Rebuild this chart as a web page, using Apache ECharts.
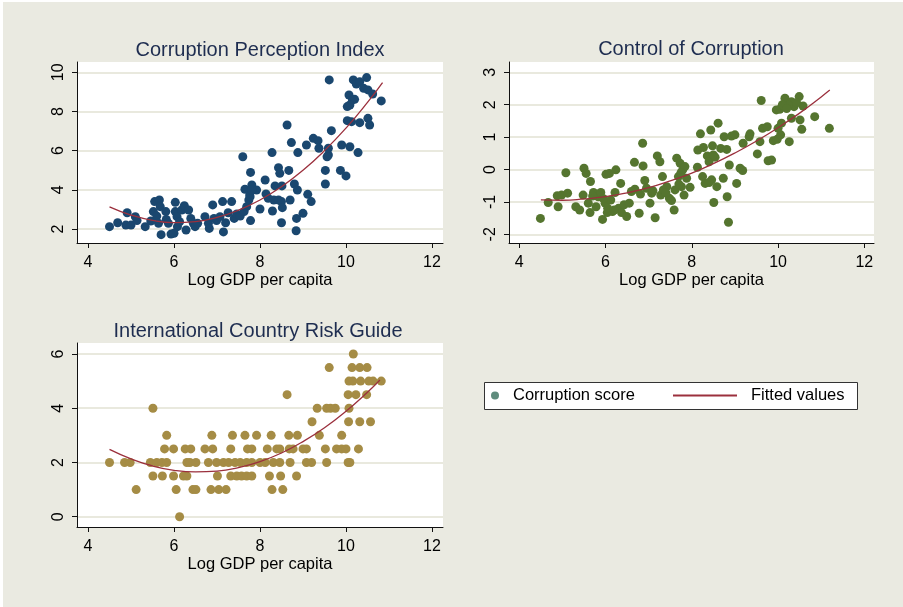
<!DOCTYPE html>
<html>
<head>
<meta charset="utf-8">
<script src="https://cdn.jsdelivr.net/npm/echarts@6/dist/echarts.min.js"></script>
<style>
  html, body { margin: 0; padding: 0; background: #fff; }
  #main { width: 903px; height: 607px; }
</style>
</head>
<body>
<div id="main"></div>
<script>
// tick labels
const gdpTicks = [4, 6, 8, 10, 12];
const cpiTicks = [2, 4, 6, 8, 10];
const cocTicks = [-2, -1, 0, 1, 2, 3];
const icrgTicks = [0, 2, 4, 6];

// [log GDP per capita, score]
const cpiPoints = [
  [9.61,9.61],[10.17,9.61],[10.24,9.4],[10.48,9.73],[10.32,9.52],[10.41,9.18],[10.51,9.1],[10.62,8.89],[10.82,8.54],
  [10.07,8.84],[10.15,8.59],[10.2,8.62],[10.03,8.25],[10.09,8.33],[10.03,7.53],[10.13,7.48],[10.32,7.43],[10.51,7.65],[10.55,7.31],
  [9.66,7.02],[9.9,6.29],[10.09,6.2],[10.28,5.9],[9.59,5.78],[9.56,5.69],[9.52,4.99],[9.52,4.3],[9.87,4.99],[10.0,4.71],
  [9.24,6.63],[9.35,6.51],[9.08,6.29],[9.59,6.12],[9.37,6.12],[8.63,7.31],[8.73,6.41],[8.88,5.9],[8.28,5.9],
  [7.6,5.69],[7.78,4.89],[8.43,5.13],[8.46,4.84],[8.67,4.99],[8.12,4.5],[8.35,4.2],[8.51,4.2],[8.8,4.3],[8.87,3.99],
  [7.65,4.03],[7.81,4.25],[7.92,3.99],[7.76,3.74],[8.14,3.79],[8.19,3.57],[8.32,3.48],[8.43,3.48],[8.5,3.4],[8.7,3.48],
  [9.11,3.77],[9.19,3.4],[8.29,2.92],[8.52,3.09],[8.0,3.02],[9.0,2.8],[8.85,2.54],[8.5,2.32],[8.84,1.91],[7.78,2.43],
  [4.5,2.12],[4.69,2.32],[4.88,2.2],[4.91,2.83],[5.0,2.2],[5.1,2.63],[5.14,2.43],[5.33,2.12],[5.46,2.41],[5.52,2.89],
  [5.55,3.4],[5.66,3.48],[5.68,3.14],[5.6,2.66],[5.64,2.29],[5.7,1.71],[5.81,2.89],[5.82,2.49],[5.87,2.29],[5.93,1.74],
  [6.03,3.36],[6.03,2.89],[6.07,2.63],[6.08,2.12],[6.0,1.78],[6.13,2.37],[6.18,2.97],[6.24,3.19],[6.28,1.95],[6.34,2.97],
  [6.39,2.54],[6.45,2.29],[6.49,2.12],[6.55,2.29],[6.72,2.63],[6.8,2.29],[6.82,2.03],[6.9,3.23],[6.93,2.54],[6.99,2.43],
  [7.07,2.63],[7.13,3.4],[7.15,1.85],[7.2,2.32],[7.26,2.83],[7.34,3.4],[7.4,2.54],[7.46,2.77],[7.54,2.66],[7.63,2.89],
  [7.69,3.14],[7.74,3.48],[7.77,3.65],[7.81,3.99]
];
const cocPoints = [
  [4.49,-1.51],[4.67,-1.02],[4.88,-0.81],[4.9,-1.15],[4.98,-0.79],[5.12,-0.73],[5.08,-0.1],[5.31,-1.15],[5.4,-1.25],[5.48,-0.79],
  [5.5,0.04],[5.55,-0.12],[5.6,-1.04],[5.65,-0.37],[5.64,-1.33],[5.72,-0.71],[5.78,-1.15],[5.83,-0.84],[5.89,-0.71],[5.93,-1.54],
  [5.99,-1.04],[6.01,-0.15],[6.04,-1.33],[6.09,-0.12],[6.12,-0.94],[6.16,-1.3],[6.22,-0.71],[6.24,-0.01],[6.3,-1.2],[6.35,-0.43],
  [6.37,-1.33],[6.43,-1.09],[6.49,-1.45],[6.55,-1.04],[6.67,0.22],[6.68,-0.61],[6.78,-1.35],[6.81,-0.76],[6.86,0.81],[6.87,0.11],
  [6.91,-0.34],[6.95,-0.58],[7.03,-1.04],[7.07,-0.73],[7.15,-1.49],[7.2,0.42],[7.26,0.24],[7.28,-0.79],[7.32,-0.22],[7.34,-0.63],
  [7.42,-0.53],[7.48,-0.89],[7.53,-0.96],[7.59,-1.25],[7.61,-0.63],[7.65,0.35],[7.69,-0.22],[7.73,0.19],[7.76,-0.53],[7.79,-0.01],
  [7.82,-0.79],[7.84,0.09],[7.88,-0.27],[7.96,-0.55],[8.13,0.07],[8.14,0.6],[8.2,1.1],[8.25,-0.22],[8.27,0.68],[8.31,-0.43],
  [8.36,0.42],[8.4,0.24],[8.44,1.22],[8.46,-0.32],[8.48,0.73],[8.51,-1.02],[8.54,0.38],[8.58,-0.53],[8.61,1.43],[8.67,0.65],
  [8.73,-0.27],[8.75,1.01],[8.81,0.62],[8.82,-0.84],[8.85,-1.63],[8.87,0.14],[8.92,1.03],[9.0,1.07],[9.04,-0.43],[9.12,0.04],
  [9.18,-0.03],[9.19,0.81],[9.33,1.01],[9.35,1.1],[9.52,0.48],[9.58,0.86],[9.61,2.13],[9.64,1.27],[9.75,1.32],[9.77,0.27],
  [9.85,0.29],[9.89,0.89],[9.98,0.93],[10.0,1.27],[10.06,1.07],[10.08,1.43],[10.04,1.86],[10.16,1.94],[10.16,2.2],[10.26,0.86],
  [10.31,2.09],[10.31,1.58],[10.37,1.94],[10.49,2.25],[10.51,1.53],[10.55,1.24],[10.58,1.96],[10.85,1.63],[11.19,1.27],[10.24,1.99],
  [10.43,2.06],[9.96,1.84],
  [5.7,-0.82],[5.95,-0.9],[6.05,-1.2],[6.2,-1.25],[6.6,-0.68],[7.1,-0.66],[7.4,-0.72],[7.7,-0.45],[7.75,-0.1],[8.4,-0.4],
  [8.5,0.45],[10.1,2.0],[10.2,1.88]
];
const icrgPoints = [
  [10.17,6],
  [9.61,5.5],[10.14,5.5],[10.32,5.5],[10.49,5.5],
  [10.07,5],[10.16,5],[10.34,5],[10.53,5],[10.63,5],[10.82,5],
  [8.63,4.5],[10.05,4.5],[10.23,4.5],[10.48,4.5],
  [5.51,4],[9.33,4],[9.55,4],[9.64,4],[9.75,4],[10.07,4],
  [9.21,3.5],[10.06,3.5],[10.32,3.5],[10.57,3.5],
  [5.83,3],[6.88,3],[7.36,3],[7.65,3],[7.92,3],[8.26,3],[8.67,3],[8.87,3],[9.38,3],[9.9,3],
  [5.78,2.5],[5.99,2.5],[6.26,2.5],[6.39,2.5],[6.72,2.5],[6.9,2.5],[7.32,2.5],[7.71,2.5],[7.81,2.5],[8.17,2.5],
  [8.39,2.5],[8.46,2.5],[8.68,2.5],[8.77,2.5],[9.0,2.5],[9.08,2.5],[9.52,2.5],[9.78,2.5],[9.9,2.5],[10.0,2.5],[10.29,2.5],
  [4.5,2],[4.85,2],[4.98,2],[5.45,2],[5.6,2],[5.72,2],[5.83,2],[6.3,2],[6.37,2],[6.51,2],[6.8,2],
  [6.99,2],[7.15,2],[7.27,2],[7.42,2],[7.54,2],[7.69,2],[7.81,2],[8.0,2],[8.12,2],[8.31,2],[8.46,2],[8.7,2],
  [9.08,2],[9.2,2],[9.55,2],[10.05,2],[10.09,2],
  [5.51,1.5],[5.73,1.5],[5.99,1.5],[6.22,1.5],[6.3,1.5],[7.01,1.5],[7.32,1.5],[7.46,1.5],[7.57,1.5],[7.69,1.5],
  [7.81,1.5],[8.22,1.5],[8.48,1.5],[8.85,1.5],
  [5.12,1],[6.05,1],[6.44,1],[6.51,1],[6.86,1],[7.04,1],[7.21,1],[8.28,1],[8.53,1],
  [6.13,0]
];

// fitted values
const cpiFit = [[4.5,3.13],[5,2.71],[5.5,2.44],[6,2.33],[6.5,2.38],[7,2.59],[7.5,2.96],[8,3.48],[8.5,4.16],[9,5.0],[9.5,6.0],[10,7.15],[10.5,8.46],[10.85,9.47]];
const cocFit = [[4.5,-0.94],[5,-0.95],[5.5,-0.91],[6,-0.84],[6.5,-0.72],[7,-0.56],[7.5,-0.35],[8,-0.11],[8.5,0.18],[9,0.51],[9.5,0.88],[10,1.29],[10.5,1.74],[11,2.24],[11.2,2.45]];
const icrgFit = [[4.5,2.48],[5,2.13],[5.5,1.87],[6,1.71],[6.5,1.65],[7,1.68],[7.5,1.81],[8,2.03],[8.5,2.35],[9,2.77],[9.5,3.28],[10,3.89],[10.5,4.59],[10.79,5.04]];

const FONT = '"Liberation Sans", Arial, sans-serif';
const FIT_COLOR = '#9b303d';

function xAxisFor(gridIndex, min, max) {
  return {
    type: 'value', gridIndex: gridIndex, min: min, max: max,
    name: 'Log GDP per capita', nameLocation: 'middle', nameGap: 29,
    nameTextStyle: { fontSize: 16.5, color: '#000', fontFamily: FONT },
    axisLine: { show: true, onZero: false, lineStyle: { color: '#111', width: 1 } },
    axisTick: { show: true, length: 5, customValues: gdpTicks, lineStyle: { color: '#111' } },
    axisLabel: { customValues: gdpTicks, fontSize: 16, color: '#000', margin: 12, fontFamily: FONT },
    splitLine: { show: false }
  };
}

function yAxisFor(gridIndex, min, max, ticks) {
  return {
    type: 'value', gridIndex: gridIndex, min: min, max: max,
    axisLine: { show: true, onZero: false, lineStyle: { color: '#111', width: 1 } },
    axisTick: { show: true, length: 5, customValues: ticks, lineStyle: { color: '#111' } },
    axisLabel: { customValues: ticks, rotate: 90, fontSize: 16, color: '#000', margin: 10, fontFamily: FONT },
    splitLine: { show: true, lineStyle: { color: '#e2e2d3', width: 1.5 } }
  };
}

function scatterFor(i, data, color) {
  return {
    name: 'Corruption score', type: 'scatter', xAxisIndex: i, yAxisIndex: i,
    data: data, symbolSize: 9, itemStyle: { color: color, opacity: 1 }, silent: true
  };
}

function fitFor(i, data) {
  return {
    name: 'Fitted values', type: 'line', xAxisIndex: i, yAxisIndex: i,
    data: data, smooth: true, symbol: 'none', z: 3, silent: true,
    itemStyle: { color: FIT_COLOR },
    lineStyle: { color: FIT_COLOR, width: 1.3 }
  };
}

const titleStyle = { fontSize: 20, fontWeight: 'normal', color: '#1e2d50', fontFamily: FONT };

const chart = echarts.init(document.getElementById('main'), null, { renderer: 'canvas' });
chart.setOption({
  backgroundColor: '#eaeae1',
  animation: false,
  title: [
    { text: 'Corruption Perception Index', left: 260, top: 40, textAlign: 'center', padding: 0, textStyle: titleStyle },
    { text: 'Control of Corruption', left: 691, top: 39, textAlign: 'center', padding: 0, textStyle: titleStyle },
    { text: 'International Country Risk Guide', left: 258, top: 321, textAlign: 'center', padding: 0, textStyle: titleStyle }
  ],
  grid: [
    { left: 77, top: 62, width: 366, height: 181, show: true, backgroundColor: '#fff', borderWidth: 0 },
    { left: 509, top: 62, width: 365, height: 181, show: true, backgroundColor: '#fff', borderWidth: 0 },
    { left: 77, top: 343, width: 366, height: 184, show: true, backgroundColor: '#fff', borderWidth: 0 }
  ],
  xAxis: [
    xAxisFor(0, 3.744, 12.256),
    xAxisFor(1, 3.761, 12.225),
    xAxisFor(2, 3.744, 12.256)
  ],
  yAxis: [
    yAxisFor(0, 1.285, 10.526, cpiTicks),
    yAxisFor(1, -2.269, 3.318, cocTicks),
    yAxisFor(2, -0.38, 6.406, icrgTicks)
  ],
  legend: [
    {
      data: [{ name: 'Corruption score', icon: 'circle', itemStyle: { color: '#5f8c7d' } }],
      left: 491, top: 387, itemWidth: 8, itemHeight: 8, padding: 0,
      textStyle: { fontSize: 16.5, color: '#000', fontFamily: FONT, padding: [0, 0, 0, 9] }
    },
    {
      data: [{ name: 'Fitted values', icon: 'rect', itemStyle: { color: FIT_COLOR } }],
      left: 673, top: 387, itemWidth: 64, itemHeight: 2, padding: 0,
      textStyle: { fontSize: 16.5, color: '#000', fontFamily: FONT, padding: [0, 0, 0, 9] }
    }
  ],
  graphic: [
    { type: 'rect', left: 0, top: 0, shape: { width: 903, height: 2 }, style: { fill: '#fff' } },
    { type: 'rect', left: 0, top: 0, shape: { width: 3, height: 607 }, style: { fill: '#fff' } },
    { type: 'rect', left: 484, top: 382, shape: { width: 373, height: 27 }, style: { fill: '#fff', stroke: '#333', lineWidth: 1 } }
  ],
  series: [
    scatterFor(0, cpiPoints, '#1a476f'),
    fitFor(0, cpiFit),
    scatterFor(1, cocPoints, '#55752f'),
    fitFor(1, cocFit),
    scatterFor(2, icrgPoints, '#a58c45'),
    fitFor(2, icrgFit)
  ]
});
</script>
</body>
</html>
